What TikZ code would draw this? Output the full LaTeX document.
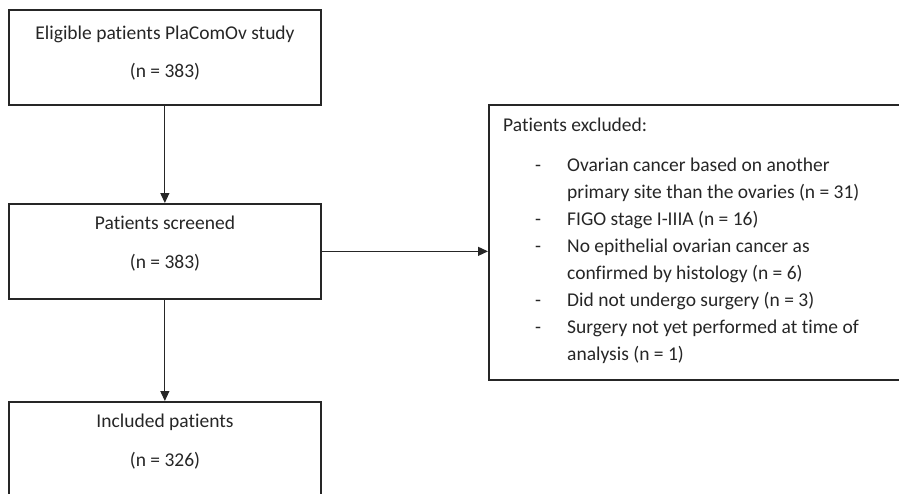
\documentclass[tikz,border=0pt]{standalone}
\usepackage{fontspec}
\setmainfont{Carlito}[Ligatures=NoCommon]
\usetikzlibrary{arrows.meta}
\begin{document}
\begin{tikzpicture}[x=1pt,y=-1pt,
  box/.style={draw=black!85,line width=1.7pt,minimum width=312pt,minimum height=95pt,inner sep=0pt,anchor=north west},
  bigbox/.style={draw=black!85,line width=1.7pt,minimum width=420pt,minimum height=275pt,inner sep=0pt,anchor=north west},
  txt/.style={inner sep=0pt,anchor=base,text=black!85,font=\fontsize{19.5}{23}\selectfont},
  ltxt/.style={inner sep=0pt,anchor=base west,text=black!85,font=\fontsize{19.5}{23}\selectfont},
  conn/.style={draw=black!85,line width=1.2pt,-{Triangle[length=10pt,width=9pt]}}]
\useasboundingbox (0,0) rectangle (899,493);
\clip (0,0) rectangle (899,493);
\node[box] (top) at (8,9) {};
\node[box] (mid) at (8,203) {};
\node[box] (bot) at (8,401) {};
\node[bigbox] (excl) at (488,104) {};
\node[txt] (t1) at (165,39) {Eligible patients PlaComOv study};
\node[txt] (t2) at (165,77) {(n = 383)};
\node[txt] (m1) at (165,229) {Patients screened};
\node[txt] (m2) at (165,268) {(n = 383)};
\node[txt] (b1) at (165,427) {Included patients};
\node[txt] (b2) at (165,466) {(n = 326)};
\node[ltxt] (eh) at (503,131) {Patients excluded:};
\foreach \yy/\nm in {171/d1,225/d2,252/d3,306/d4,333/d5}{
  \node[ltxt] (\nm) at (535,\yy) {-};
}
\node[ltxt] (e1) at (567,171) {Ovarian cancer based on another};
\node[ltxt] (e2) at (567,198) {primary site than the ovaries (n = 31)};
\node[ltxt] (e3) at (567,225) {FIGO stage I-IIIA (n = 16)};
\node[ltxt] (e4) at (567,252) {No epithelial ovarian cancer as};
\node[ltxt] (e5) at (567,279) {confirmed by histology (n = 6)};
\node[ltxt] (e6) at (567,306) {Did not undergo surgery (n = 3)};
\node[ltxt] (e7) at (567,333) {Surgery not yet performed at time of};
\node[ltxt] (e8) at (567,360) {analysis (n = 1)};
\draw[conn] (top.south) -- (mid.north);
\draw[conn] (mid.south) -- (bot.north);
\draw[conn] (mid.east) -- (mid.east -| excl.west);
\end{tikzpicture}
\end{document}
